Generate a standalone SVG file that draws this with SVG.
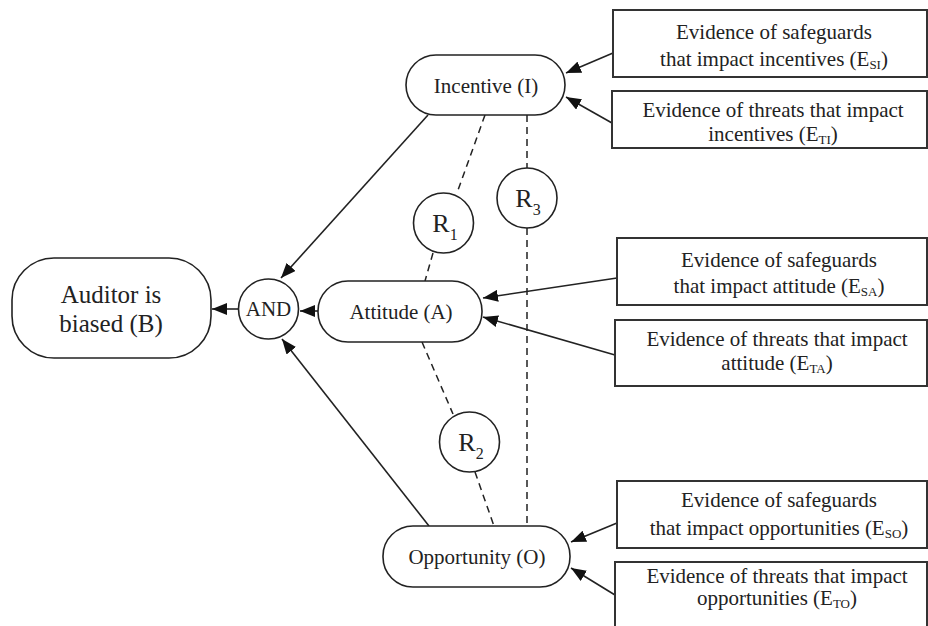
<svg xmlns="http://www.w3.org/2000/svg" width="928" height="626" viewBox="0 0 928 626">
<style>
.node{fill:#fff;stroke:#222;stroke-width:1.6}
.box{fill:#fff;stroke:#333;stroke-width:2}
.t{fill:#222;text-anchor:middle;font-family:"Times New Roman","Liberation Serif",Times,serif}
.lbl{font-size:21px}
.big{font-size:25px}
.ev{font-size:21px}
.r{font-size:26px}
.edge{fill:none;stroke:#222;stroke-width:1.6}
.dash{fill:none;stroke:#222;stroke-width:1.5;stroke-dasharray:7 5}
</style>
<defs>
<marker id="ah" markerUnits="userSpaceOnUse" markerWidth="16" markerHeight="12" refX="15" refY="6" orient="auto">
<path d="M0,0 L15,6 L0,12 z" fill="#111"/>
</marker>
</defs>
<g id="connectors">
<line class="edge" x1="238" y1="309" x2="212" y2="309" marker-end="url(#ah)"/>
<line class="edge" x1="318" y1="311" x2="300" y2="311" marker-end="url(#ah)"/>
<line class="edge" x1="428" y1="115" x2="281" y2="278" marker-end="url(#ah)"/>
<line class="edge" x1="429" y1="526" x2="282" y2="339" marker-end="url(#ah)"/>
<line class="edge" x1="613" y1="53" x2="566" y2="73" marker-end="url(#ah)"/>
<line class="edge" x1="612" y1="123" x2="566" y2="97" marker-end="url(#ah)"/>
<line class="edge" x1="617" y1="278" x2="483" y2="298" marker-end="url(#ah)"/>
<line class="edge" x1="615" y1="355" x2="483" y2="317" marker-end="url(#ah)"/>
<line class="edge" x1="617" y1="523" x2="571" y2="542" marker-end="url(#ah)"/>
<line class="edge" x1="615" y1="595" x2="571" y2="568" marker-end="url(#ah)"/>
<line class="dash" x1="485" y1="115" x2="457" y2="193"/>
<line class="dash" x1="433" y1="253" x2="425" y2="281"/>
<line class="dash" x1="422" y1="342" x2="453" y2="414"/>
<line class="dash" x1="475" y1="472" x2="494" y2="526"/>
<line class="dash" x1="527" y1="115" x2="527" y2="168"/>
<line class="dash" x1="527" y1="228" x2="527" y2="527"/>
</g>
<g id="auditor">
<rect class="node" x="12" y="258" width="199" height="100" rx="42"/>
<text class="t big" x="111" y="303">Auditor is</text>
<text class="t big" x="111" y="332">biased (B)</text>
</g>
<g id="and">
<circle class="node" cx="268.5" cy="309" r="30"/>
<text class="t lbl" x="268.5" y="316">AND</text>
</g>
<g id="incentive">
<rect class="node" x="406" y="55" width="159" height="60" rx="30"/>
<text class="t lbl" x="486" y="93">Incentive (I)</text>
</g>
<g id="attitude">
<rect class="node" x="318" y="281" width="164" height="61" rx="30"/>
<text class="t lbl" x="401" y="319">Attitude (A)</text>
</g>
<g id="opportunity">
<rect class="node" x="383" y="526" width="187" height="61" rx="30"/>
<text class="t lbl" x="477" y="564">Opportunity (O)</text>
</g>
<g id="r1">
<circle class="node" cx="443.5" cy="223" r="30"/>
<text class="t r" x="445" y="232">R<tspan font-size="16" dy="8">1</tspan></text>
</g>
<g id="r2">
<circle class="node" cx="469.5" cy="442" r="30"/>
<text class="t r" x="471" y="451">R<tspan font-size="16" dy="8">2</tspan></text>
</g>
<g id="r3">
<circle class="node" cx="527" cy="198" r="30"/>
<text class="t r" x="528" y="207">R<tspan font-size="16" dy="8">3</tspan></text>
</g>
<g id="esi">
<rect class="box" x="613" y="10" width="314" height="67"/>
<text class="t ev" x="774" y="39">Evidence of safeguards</text>
<text class="t ev" x="774" y="66">that impact incentives (E<tspan font-size="13" dy="3">SI</tspan><tspan dy="-3">)</tspan></text>
</g>
<g id="eti">
<rect class="box" x="612" y="91" width="315" height="57"/>
<text class="t ev" x="773" y="117">Evidence of threats that impact</text>
<text class="t ev" x="773" y="141">incentives (E<tspan font-size="13" dy="3">TI</tspan><tspan dy="-3">)</tspan></text>
</g>
<g id="esa">
<rect class="box" x="617" y="238" width="310" height="67"/>
<text class="t ev" x="779" y="267">Evidence of safeguards</text>
<text class="t ev" x="779" y="293">that impact attitude (E<tspan font-size="13" dy="3">SA</tspan><tspan dy="-3">)</tspan></text>
</g>
<g id="eta">
<rect class="box" x="615" y="320" width="312" height="66"/>
<text class="t ev" x="777" y="346">Evidence of threats that impact</text>
<text class="t ev" x="777" y="370">attitude (E<tspan font-size="13" dy="3">TA</tspan><tspan dy="-3">)</tspan></text>
</g>
<g id="eso">
<rect class="box" x="617" y="481" width="310" height="67"/>
<text class="t ev" x="779" y="507">Evidence of safeguards</text>
<text class="t ev" x="779" y="535">that impact opportunities (E<tspan font-size="13" dy="3">SO</tspan><tspan dy="-3">)</tspan></text>
</g>
<g id="eto">
<rect class="box" x="615" y="562" width="312" height="70"/>
<text class="t ev" x="777" y="583">Evidence of threats that impact</text>
<text class="t ev" x="777" y="605">opportunities (E<tspan font-size="13" dy="3">TO</tspan><tspan dy="-3">)</tspan></text>
</g>
</svg>
